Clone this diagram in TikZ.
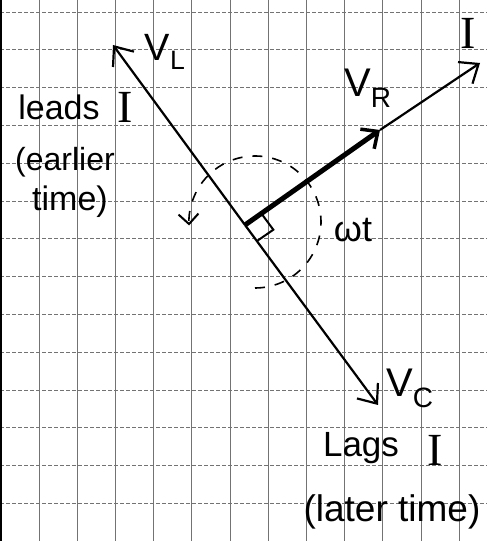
\documentclass[tikz,border=0pt]{standalone}
\usepackage{fontspec}
\setmainfont{Liberation Sans}
\newfontfamily\serifI{Liberation Serif}
\usetikzlibrary{arrows.meta,calc}
\begin{document}
\begin{tikzpicture}[x=1pt,y=1pt,
  gridv/.style={black!55, line width=0.8pt},
  gridh/.style={black!55, line width=0.8pt, dash pattern=on 4pt off 2pt},
  phasor/.style={line width=2.2pt, -{Straight Barb[length=16pt,width=26pt,line width=2.2pt]}},
  thickphasor/.style={line width=5pt, -{Straight Barb[length=13pt,width=24pt,line width=3.5pt]}},
  arcline/.style={line width=1.6pt, dash pattern=on 10pt off 10pt, -{Straight Barb[length=10pt,width=20pt,line width=2pt]}},
  rightmark/.style={line width=2pt},
  lab/.style={inner sep=0pt, text=black},
  bigI/.style={inner sep=0pt, font=\serifI\fontsize{46}{46}\selectfont}
]
\useasboundingbox (0,0) rectangle (487,541);
\fill[white] (0,0) rectangle (487,541);
% graph paper
\foreach \k in {0,...,11} \draw[gridv] ({39+38.2*\k},0) -- ({39+38.2*\k},541);
\foreach \k in {0,...,13} \draw[gridh] (0,{529-37.8*\k}) -- (487,{529-37.8*\k});
\draw[black, line width=2.5pt] (1,0) -- (1,541);
% points
\coordinate (O) at (245,316);
\coordinate (L) at (113,496);
\coordinate (C) at (378,136);
\coordinate (R) at (380,411);
\coordinate (I) at (480,478);
\coordinate (A) at (255,319);
% phasors
\draw[phasor] (O) -- (L);
\draw[phasor] (O) -- (C);
\draw[phasor] (R) -- (I);
\draw[thickphasor] (O) -- (R);
% right angle mark
\coordinate (P1) at ($(O)!20pt!(I)$);
\coordinate (P2) at ($(O)!20pt!(C)$);
\coordinate (Q) at ($(P1)+(P2)-(O)$);
\draw[rightmark] (P1) -- (Q) -- (P2);
% rotation arc
\draw[arcline] ([shift={(-90:66)}]A) arc[start angle=-90, end angle=183, radius=66];
% labels
\node[lab, font=\fontsize{38}{38}\selectfont] (vl) at (165,489) {V\textsubscript{L}};
\node[lab, font=\fontsize{34}{34}\selectfont] (leads) at (59,434) {leads};
\node[bigI] (leadsI) at (125,434) {I};
\node[lab, font=\fontsize{32}{32}\selectfont] (earlier) at (65,379) {(earlier};
\node[lab, font=\fontsize{34}{34}\selectfont] (time) at (70,339) {time)};
\node[lab, font=\fontsize{40}{40}\selectfont] (vr) at (368,453) {V\textsubscript{R}};
\node[bigI] (ilab) at (468,508) {I};
\node[lab, font=\fontsize{36}{36}\selectfont] (wt) at (353,311) {ωt};
\node[lab, font=\fontsize{40}{40}\selectfont] (vc) at (410,153) {V\textsubscript{C}};
\node[lab, font=\fontsize{35}{35}\selectfont] (lags) at (361,93) {Lags};
\node[bigI] (lagsI) at (435,91) {I};
\node[lab, font=\fontsize{37}{37}\selectfont] (later) at (392,29) {(later time)};
\end{tikzpicture}
\end{document}
